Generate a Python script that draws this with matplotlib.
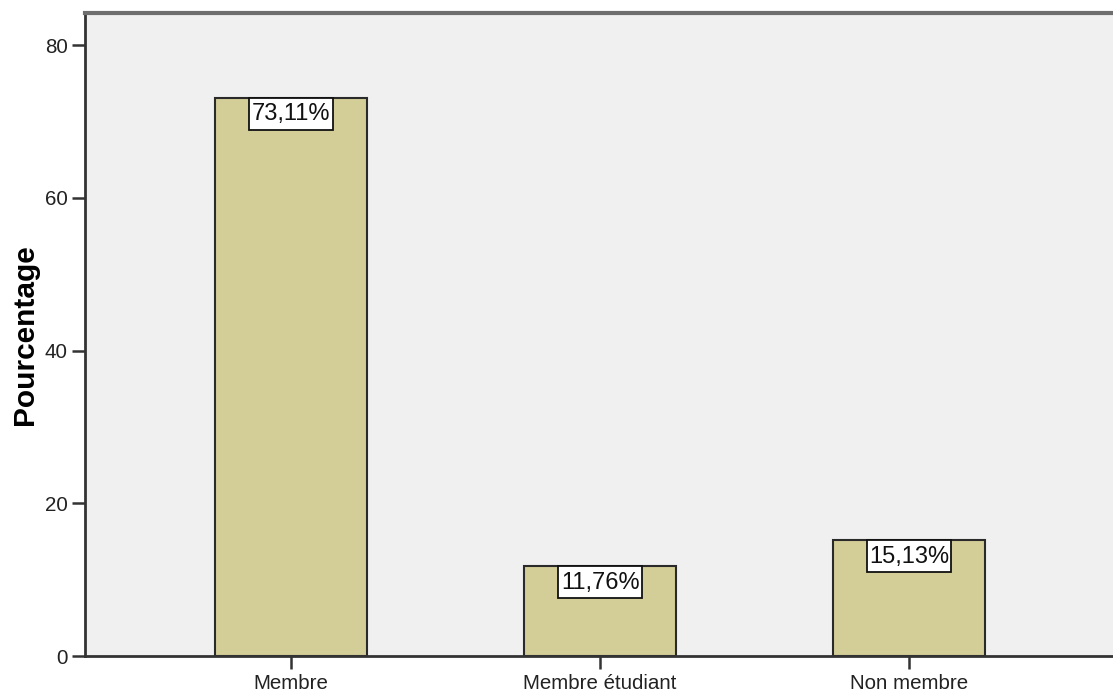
import matplotlib.pyplot as plt
import matplotlib.transforms as mtransforms
from matplotlib.patches import Rectangle
import numpy as np

plt.rcParams['font.family'] = ['Liberation Sans', 'DejaVu Sans']

# categories and percentages
categories = ['Membre', 'Membre étudiant', 'Non membre']
percentages = [73.11, 11.76, 15.13]
value_labels = ['73,11%', '11,76%', '15,13%']
yticks = [0, 20, 40, 60, 80]

fig = plt.figure(figsize=(11.13, 6.93), dpi=100)
ax = fig.add_axes([85 / 1113, 37 / 693, 1 - 85 / 1113, 643 / 693])
ax.set_facecolor('#F0F0F0')

x = np.arange(len(categories))
bars = ax.bar(x, percentages, width=0.49, color='#D3CE97',
              edgecolor='#2A2A2A', linewidth=1.5, zorder=2)

## value boxes hanging from the top of each bar (box size in points)
box_w, box_h = 60.5, 23.0
for xi, val, lab in zip(x, percentages, value_labels):
    anchor = mtransforms.Affine2D().scale(fig.dpi / 72.0) + \
        mtransforms.ScaledTranslation(xi, val, ax.transData)
    ax.add_patch(Rectangle((-box_w / 2, -box_h), box_w, box_h, transform=anchor,
                           facecolor='white', edgecolor='#111111', linewidth=1.3,
                           zorder=3, clip_on=False))
    ax.annotate(lab, xy=(xi, val), xytext=(0, -box_h / 2 - 0.5),
                textcoords='offset points', ha='center', va='center',
                fontsize=17, color='#111111', zorder=4)

ax.set_xlim(-0.667, 2.66)
ax.set_ylim(0, 84.2)
ax.set_xticks(x)
ax.set_xticklabels(categories)
ax.set_yticks(yticks)

ax.tick_params(axis='y', length=9.4, width=1.8, pad=3, labelsize=14.8,
               color='#333333', labelcolor='#222222')
ax.tick_params(axis='x', length=9, width=1.8, pad=4, labelsize=14.8,
               color='#333333', labelcolor='#222222')

ax.set_ylabel('Pourcentage', fontsize=21.5, fontweight='bold', va='center')
ax.yaxis.set_label_coords(-0.058, 0.5)

## spines
ax.spines['right'].set_visible(False)
ax.spines['top'].set_color('#6E6E6E')
ax.spines['top'].set_linewidth(3)
ax.spines['left'].set_color('#333333')
ax.spines['left'].set_linewidth(2)
ax.spines['bottom'].set_color('#333333')
ax.spines['bottom'].set_linewidth(2)

fig.savefig('out.png', dpi=100)
